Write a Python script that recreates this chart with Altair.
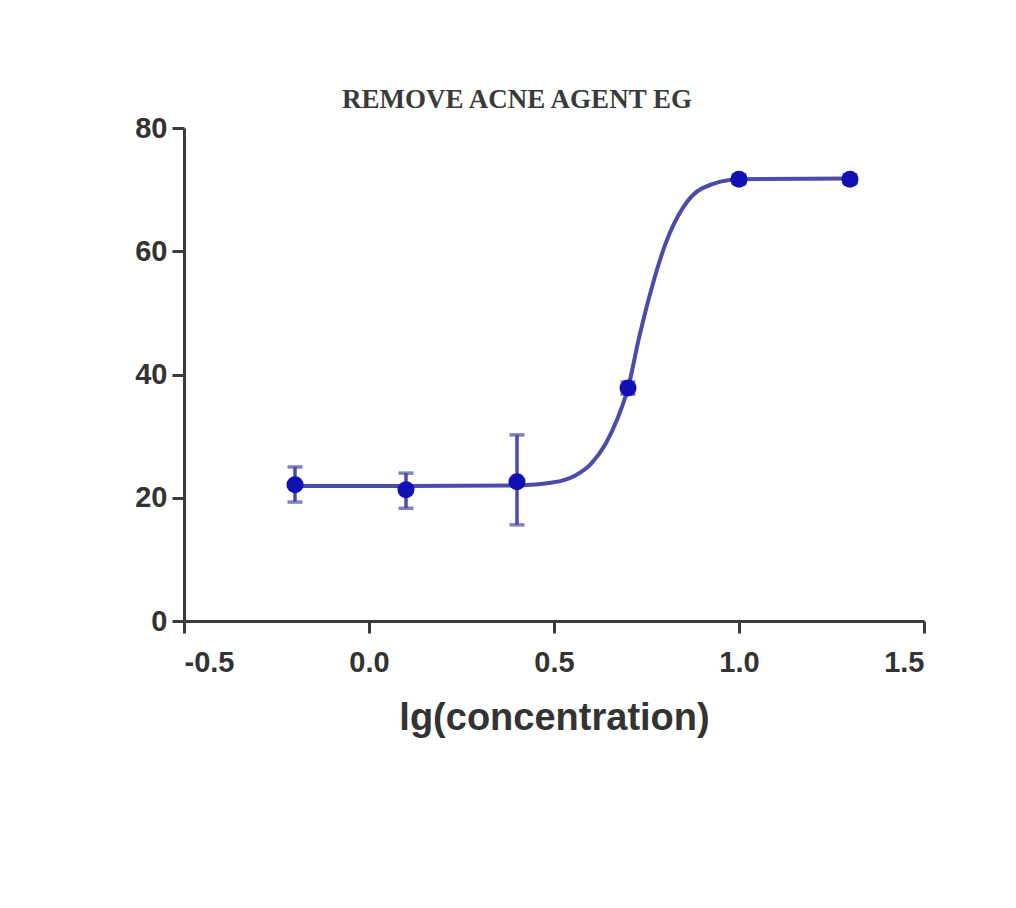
import altair as alt
import pandas as pd

# measured points
pt_x = [-0.2, 0.1, 0.4, 0.7, 1.0, 1.3]
pt_y = [22.1, 21.3, 22.6, 37.8, 71.7, 71.7]
err_lo = [19.3, 18.3, 15.6, 36.8, 71.0, 71.0]
err_hi = [25.0, 24.0, 30.2, 38.8, 72.4, 72.4]

# fitted curve
curve_x = [-0.2, 0.1, 0.4, 0.5, 0.56, 0.6, 0.64, 0.67, 0.7, 0.73, 0.77, 0.8, 0.85, 0.9, 1.0, 1.3]
curve_y = [21.9, 21.9, 22.0, 22.5, 23.7, 25.5, 28.8, 32.6, 37.8, 46.0, 55.3, 61.0, 67.2, 70.2, 71.7, 71.8]

title_text = "REMOVE ACNE AGENT EG"
x_title = "lg(concentration)"
x_ticks = [-0.5, 0.0, 0.5, 1.0, 1.5]
y_ticks = [0, 20, 40, 60, 80]

pts = pd.DataFrame({"x": pt_x, "y": pt_y, "lo": err_lo, "hi": err_hi})
crv = pd.DataFrame({"x": curve_x, "y": curve_y})

xs = alt.Scale(domain=[-0.5, 1.5], nice=False, zero=False)
ys = alt.Scale(domain=[0, 80], nice=False)

x_axis = alt.Axis(values=x_ticks, format=".1f", title=x_title,
                  labelExpr="replace(datum.label, '\u2212', '-')")
y_axis = alt.Axis(values=y_ticks, title=None)

line_color = "#4b4bab"
pt_color = "#1010b4"

curve = alt.Chart(crv).mark_line(interpolate="monotone", color=line_color, strokeWidth=4).encode(
    x=alt.X("x:Q", scale=xs, axis=x_axis),
    y=alt.Y("y:Q", scale=ys, axis=y_axis),
)

bars = alt.Chart(pts).mark_rule(color=line_color, strokeWidth=3.5).encode(
    x=alt.X("x:Q", scale=xs),
    y=alt.Y("lo:Q", scale=ys),
    y2="hi:Q",
)
cap_lo = alt.Chart(pts).mark_tick(color=line_color, thickness=3.5, size=15, orient="horizontal").encode(
    x=alt.X("x:Q", scale=xs),
    y=alt.Y("lo:Q", scale=ys),
)
cap_hi = alt.Chart(pts).mark_tick(color=line_color, thickness=3.5, size=15, orient="horizontal").encode(
    x=alt.X("x:Q", scale=xs),
    y=alt.Y("hi:Q", scale=ys),
)
points = alt.Chart(pts).mark_point(filled=True, shape="circle", size=290, color=pt_color, opacity=1).encode(
    x=alt.X("x:Q", scale=xs),
    y=alt.Y("y:Q", scale=ys),
)

chart = alt.layer(curve, bars, cap_lo, cap_hi, points).properties(
    width=740,
    height=493,
    autosize=alt.AutoSizeParams(type="none"),
    padding={"left": 176, "top": 120, "right": 84, "bottom": 279},
    background="white",
    title=alt.TitleParams(
        text=title_text,
        font="Liberation Serif",
        fontSize=27,
        fontWeight="bold",
        color="#3a3a3a",
        anchor="middle",
        offset=0,
        dx=-37,
    ),
).configure_view(stroke=None).configure_axis(
    grid=False,
    domainColor="#3a3a3a",
    domainWidth=3,
    tickColor="#3a3a3a",
    tickWidth=3,
    tickSize=12,
    labelFont="Liberation Sans",
    labelFontSize=29,
    labelFontWeight="bold",
    labelColor="#333333",
    labelPadding=5,
    titleFont="Liberation Sans",
    titleFontSize=38,
    titleFontWeight="bold",
    titleColor="#333333",
).configure_axisX(titlePadding=22, labelPadding=15)

chart.save("out.html", embed_options={"renderer": "svg", "actions": False})
